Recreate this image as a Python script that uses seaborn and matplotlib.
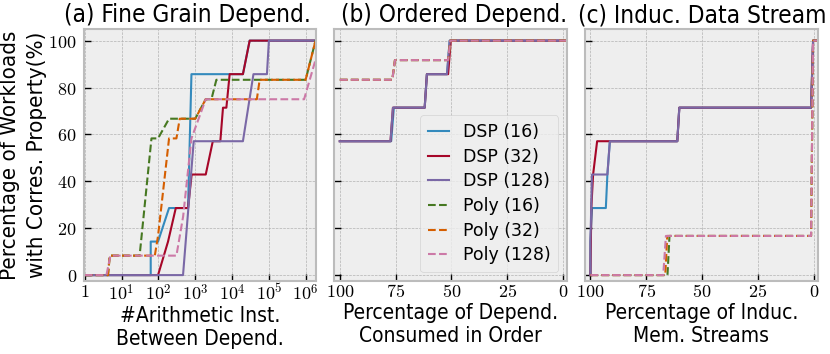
import seaborn as sns
import matplotlib.pyplot as plt
from matplotlib.ticker import FixedLocator, FuncFormatter, NullLocator

# (a) fine grain dependences: #arith inst between dependences (log x)
a_dsp16_x = [1, 62, 62, 98, 195, 638, 790, 19700, 30000, 2e6]
a_dsp16_y = [0, 0, 14.3, 14.3, 28.6, 28.6, 85.7, 85.7, 100, 100]
a_dsp32_x = [1, 98, 183, 297, 638, 800, 1930, 3000, 4800, 5670, 7000, 8600, 19700, 30000, 2e6]
a_dsp32_y = [0, 0, 14.3, 28.6, 28.6, 42.9, 42.9, 57.1, 57.1, 71.4, 71.4, 85.7, 85.7, 100, 100]
a_dsp128_x = [1, 467, 910, 19700, 38000, 88300, 99800, 2e6]
a_dsp128_y = [0, 0, 57.1, 57.1, 85.7, 85.7, 100, 100]
a_poly16_x = [1, 4.3, 4.8, 31, 65, 98, 195, 1000, 1930, 2750, 3750, 9.9e5, 1.84e6, 2e6]
a_poly16_y = [0, 0, 8.3, 8.3, 58.3, 58.3, 66.7, 66.7, 75, 75, 83.3, 83.3, 100, 100]
a_poly32_x = [1, 4.3, 4.8, 80, 98, 195, 309, 380, 1000, 1930, 47000, 56000, 9.9e5, 1.84e6, 2e6]
a_poly32_y = [0, 0, 8.3, 8.3, 16.7, 58.3, 58.3, 66.7, 66.7, 75, 75, 83.3, 83.3, 100, 100]
a_poly128_x = [1, 3.9, 5.0, 309, 470, 790, 1930, 9e5, 2.6e6]
a_poly128_y = [0, 0, 8.3, 8.3, 25, 58.3, 75, 75, 100]

# (b) ordered dependences: % of dependences consumed in order
b_dsp16_x = [100, 77.0, 75.8, 62, 61, 52, 50.8, -2]
b_dsp32_x = [100, 77.3, 76.2, 62, 61, 51.5, 50.3, -2]
b_dsp128_x = [100, 77.3, 76.2, 62, 61, 52, 50.8, -2]
b_dsp_y = [57.1, 57.1, 71.4, 71.4, 85.7, 85.7, 100, 100]
b_poly_x = [100, 76.5, 75.3, 51.5, 50.5, -2]
b_poly_y = [83.3, 83.3, 91.7, 91.7, 100, 100]

# (c) induction data streams: % of induction memory streams
c_dsp16_x = [100, 100, 99.3, 93.1, 92.4, 91.3, 61.1, 60.2, 1.2, 0.3, -2]
c_dsp16_y = [0, 14.3, 28.6, 28.6, 42.9, 57.1, 57.1, 71.4, 71.4, 100, 100]
c_dsp32_x = [100, 99.6, 98.8, 97.0, 61.1, 60.2, 1.2, 0.3, -2]
c_dsp32_y = [0, 28.6, 42.9, 57.1, 57.1, 71.4, 71.4, 100, 100]
c_dsp128_x = [100, 100, 99.3, 92.4, 91.3, 61.1, 60.2, 1.2, 0.3, -2]
c_dsp128_y = [0, 14.3, 42.9, 42.9, 57.1, 57.1, 71.4, 71.4, 100, 100]
c_poly16_x = [100, 65.5, 64.6, 1.2, 0.3, -2]
c_poly32_x = [100, 66.5, 65.6, 1.2, 0.3, -2]
c_poly128_x = [100, 67.4, 66.2, 1.2, 0.3, -2]
c_poly_y = [0, 0, 16.7, 16.7, 100, 100]

labels = ['DSP (16)', 'DSP (32)', 'DSP (128)', 'Poly (16)', 'Poly (32)', 'Poly (128)']
colors = ['#348ABD', '#A60628', '#7A68A6', '#467821', '#D55E00', '#CC79A7']
styles = ['-', '-', '-', '--', '--', '--']

titles = ['(a) Fine Grain Depend.', '(b) Ordered Depend.', '(c) Induc. Data Stream']
title_x = [0.445, 0.515, 0.505]
xlabels = ['#Arithmetic Inst.\nBetween Depend.',
           'Percentage of Depend.\nConsumed in Order',
           'Percentage of Induc.\nMem. Streams']

panels = [
    [(a_dsp16_x, a_dsp16_y), (a_dsp32_x, a_dsp32_y), (a_dsp128_x, a_dsp128_y),
     (a_poly16_x, a_poly16_y), (a_poly32_x, a_poly32_y), (a_poly128_x, a_poly128_y)],
    [(b_dsp16_x, b_dsp_y), (b_dsp32_x, b_dsp_y), (b_dsp128_x, b_dsp_y),
     (b_poly_x, b_poly_y), (b_poly_x, b_poly_y), (b_poly_x, b_poly_y)],
    [(c_dsp16_x, c_dsp16_y), (c_dsp32_x, c_dsp32_y), (c_dsp128_x, c_dsp128_y),
     (c_poly16_x, c_poly_y), (c_poly32_x, c_poly_y), (c_poly128_x, c_poly_y)],
]

plt.style.use('bmh')
plt.rcParams['font.family'] = ['DejaVu Sans']
plt.rcParams['font.stretch'] = 'condensed'
plt.rcParams['mathtext.fontset'] = 'cm'

fig, axes = plt.subplots(1, 3, figsize=(8.3, 3.54), dpi=100, sharey=True)
fig.subplots_adjust(left=0.101, right=0.985, bottom=0.207, top=0.917, wspace=0.078)

for i, ax in enumerate(axes):
    for (xs, ys), lab, c, ls in zip(panels[i], labels, colors, styles):
        sns.lineplot(x=xs, y=ys, sort=False, estimator=None, ax=ax, color=c,
                     linestyle=ls, lw=1.5, label=lab, legend=False)
    ax.set_title(titles[i], fontsize=17.5, pad=5, x=title_x[i])
    ax.set_xlabel(xlabels[i], fontsize=15, labelpad=1, linespacing=1.2)
    ax.set_ylim(-2.4, 104.8)
    ax.yaxis.set_major_locator(FixedLocator([0, 20, 40, 60, 80, 100]))
    ax.yaxis.set_major_formatter(FuncFormatter(lambda v, p: f'${v:g}$'))
    for s in ax.spines.values():
        s.set_linewidth(1.5)
    ax.tick_params(axis='both', which='major', labelsize=13, length=5, width=1,
                   color='black', top=False, right=False)
    ax.tick_params(axis='x', pad=2)
    ax.tick_params(axis='y', pad=5)

ax = axes[0]
ax.set_xscale('log')
ax.set_xlim(0.95, 1.93e6)
ax.xaxis.set_major_locator(FixedLocator([1, 10, 1e2, 1e3, 1e4, 1e5, 1e6]))
ax.xaxis.set_minor_locator(NullLocator())
ax.set_xticklabels(['$1$', '$10^1$', '$10^2$', '$10^3$', '$10^4$', '$10^5$', '$10^6$'])
ax.set_ylabel('Percentage of Workloads\nwith Corres. Property(%)', fontsize=16,
              linespacing=1.45, labelpad=1)

for ax in axes[1:]:
    ax.set_xlim(102.4, -1.7)
    ax.xaxis.set_major_locator(FixedLocator([100, 75, 50, 25, 0]))
    ax.xaxis.set_major_formatter(FuncFormatter(lambda v, p: f'${v:g}$'))

axes[1].legend(loc='lower right', prop={'size': 12.5, 'stretch': 'normal'},
               handlelength=1.2, labelspacing=0.38, borderpad=0.45, frameon=True)

fig.savefig('out.png', dpi=100)
